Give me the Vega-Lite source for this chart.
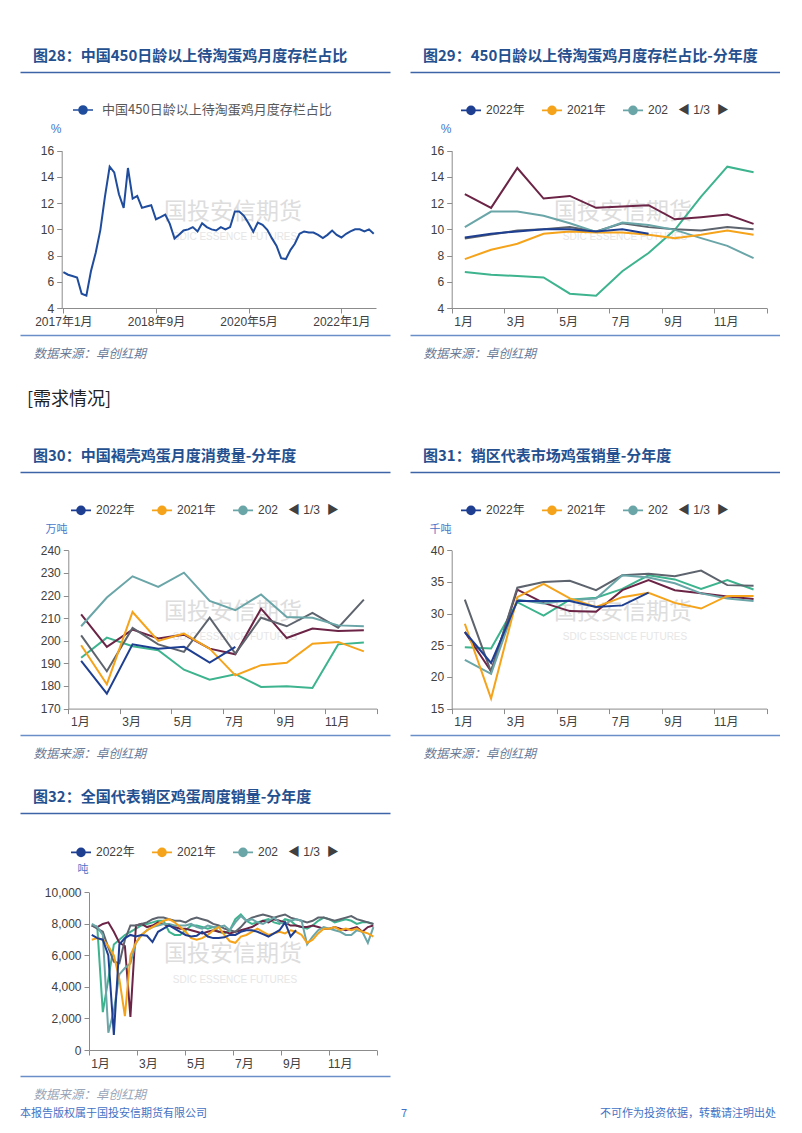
{
  "$schema": "https://vega.github.io/schema/vega-lite/v6.json",
  "background": "white",
  "padding": {"left": 20, "top": 0, "right": 0, "bottom": 0},
  "config": {"view": {"stroke": null}, "font": "Noto Sans CJK SC"},
  "datasets": {
    "d28": [
      {"date":"2017-01-01","value":6.74},{"date":"2017-02-01","value":6.54},{"date":"2017-03-01","value":6.44},{"date":"2017-04-01","value":6.33},{"date":"2017-05-01","value":5.09},{"date":"2017-06-01","value":4.94},{"date":"2017-07-01","value":6.8},{"date":"2017-08-01","value":8.2},{"date":"2017-09-01","value":9.96},{"date":"2017-10-01","value":12.5},{"date":"2017-11-01","value":14.78},{"date":"2017-12-01","value":14.35},
      {"date":"2018-01-01","value":12.68},{"date":"2018-02-01","value":11.64},{"date":"2018-03-01","value":14.68},{"date":"2018-04-01","value":12.35},{"date":"2018-05-01","value":12.55},{"date":"2018-06-01","value":11.64},{"date":"2018-07-01","value":11.74},{"date":"2018-08-01","value":11.84},{"date":"2018-09-01","value":10.77},{"date":"2018-10-01","value":10.93},{"date":"2018-11-01","value":11.13},{"date":"2018-12-01","value":10.42},
      {"date":"2019-01-01","value":9.3},{"date":"2019-02-01","value":9.6},{"date":"2019-03-01","value":9.91},{"date":"2019-04-01","value":10.0},{"date":"2019-05-01","value":10.17},{"date":"2019-06-01","value":9.84},{"date":"2019-07-01","value":10.47},{"date":"2019-08-01","value":10.17},{"date":"2019-09-01","value":10.0},{"date":"2019-10-01","value":9.91},{"date":"2019-11-01","value":10.17},{"date":"2019-12-01","value":10.0},
      {"date":"2020-01-01","value":10.17},{"date":"2020-02-01","value":11.36},{"date":"2020-03-01","value":11.36},{"date":"2020-04-01","value":11.03},{"date":"2020-05-01","value":10.47},{"date":"2020-06-01","value":9.81},{"date":"2020-07-01","value":10.52},{"date":"2020-08-01","value":10.34},{"date":"2020-09-01","value":9.96},{"date":"2020-10-01","value":9.33},{"date":"2020-11-01","value":8.74},{"date":"2020-12-01","value":7.8},
      {"date":"2021-01-01","value":7.73},{"date":"2021-02-01","value":8.44},{"date":"2021-03-01","value":8.9},{"date":"2021-04-01","value":9.66},{"date":"2021-05-01","value":9.84},{"date":"2021-06-01","value":9.76},{"date":"2021-07-01","value":9.76},{"date":"2021-08-01","value":9.58},{"date":"2021-09-01","value":9.33},{"date":"2021-10-01","value":9.58},{"date":"2021-11-01","value":9.91},{"date":"2021-12-01","value":9.58},
      {"date":"2022-01-01","value":9.38},{"date":"2022-02-01","value":9.66},{"date":"2022-03-01","value":9.84},{"date":"2022-04-01","value":10.0},{"date":"2022-05-01","value":10.0},{"date":"2022-06-01","value":9.84},{"date":"2022-07-01","value":10.0},{"date":"2022-08-01","value":9.66}
    ],
    "d29": [
      {"year":"2017年","month":1,"value":6.74},{"year":"2017年","month":2,"value":6.54},{"year":"2017年","month":3,"value":6.44},{"year":"2017年","month":4,"value":6.33},{"year":"2017年","month":5,"value":5.09},{"year":"2017年","month":6,"value":4.94},{"year":"2017年","month":7,"value":6.8},{"year":"2017年","month":8,"value":8.2},{"year":"2017年","month":9,"value":9.96},{"year":"2017年","month":10,"value":12.5},{"year":"2017年","month":11,"value":14.78},{"year":"2017年","month":12,"value":14.35},
      {"year":"2018年","month":1,"value":12.68},{"year":"2018年","month":2,"value":11.64},{"year":"2018年","month":3,"value":14.68},{"year":"2018年","month":4,"value":12.35},{"year":"2018年","month":5,"value":12.55},{"year":"2018年","month":6,"value":11.64},{"year":"2018年","month":7,"value":11.74},{"year":"2018年","month":8,"value":11.84},{"year":"2018年","month":9,"value":10.77},{"year":"2018年","month":10,"value":10.93},{"year":"2018年","month":11,"value":11.13},{"year":"2018年","month":12,"value":10.42},
      {"year":"2019年","month":1,"value":9.3},{"year":"2019年","month":2,"value":9.6},{"year":"2019年","month":3,"value":9.91},{"year":"2019年","month":4,"value":10.0},{"year":"2019年","month":5,"value":10.17},{"year":"2019年","month":6,"value":9.84},{"year":"2019年","month":7,"value":10.47},{"year":"2019年","month":8,"value":10.17},{"year":"2019年","month":9,"value":10.0},{"year":"2019年","month":10,"value":9.91},{"year":"2019年","month":11,"value":10.17},{"year":"2019年","month":12,"value":10.0},
      {"year":"2020年","month":1,"value":10.17},{"year":"2020年","month":2,"value":11.36},{"year":"2020年","month":3,"value":11.36},{"year":"2020年","month":4,"value":11.03},{"year":"2020年","month":5,"value":10.47},{"year":"2020年","month":6,"value":9.81},{"year":"2020年","month":7,"value":10.52},{"year":"2020年","month":8,"value":10.34},{"year":"2020年","month":9,"value":9.96},{"year":"2020年","month":10,"value":9.33},{"year":"2020年","month":11,"value":8.74},{"year":"2020年","month":12,"value":7.8},
      {"year":"2021年","month":1,"value":7.73},{"year":"2021年","month":2,"value":8.44},{"year":"2021年","month":3,"value":8.9},{"year":"2021年","month":4,"value":9.66},{"year":"2021年","month":5,"value":9.84},{"year":"2021年","month":6,"value":9.76},{"year":"2021年","month":7,"value":9.76},{"year":"2021年","month":8,"value":9.58},{"year":"2021年","month":9,"value":9.33},{"year":"2021年","month":10,"value":9.58},{"year":"2021年","month":11,"value":9.91},{"year":"2021年","month":12,"value":9.58},
      {"year":"2022年","month":1,"value":9.38},{"year":"2022年","month":2,"value":9.66},{"year":"2022年","month":3,"value":9.84},{"year":"2022年","month":4,"value":10.0},{"year":"2022年","month":5,"value":10.0},{"year":"2022年","month":6,"value":9.84},{"year":"2022年","month":7,"value":10.0},{"year":"2022年","month":8,"value":9.66}
    ],
    "d30": [
      {"year":"2017年","month":1,"value":192.5},{"year":"2017年","month":2,"value":201.4},{"year":"2017年","month":3,"value":197.6},{"year":"2017年","month":4,"value":195.8},{"year":"2017年","month":5,"value":187.2},{"year":"2017年","month":6,"value":182.8},{"year":"2017年","month":7,"value":185.2},{"year":"2017年","month":8,"value":179.6},{"year":"2017年","month":9,"value":179.9},{"year":"2017年","month":10,"value":179.1},{"year":"2017年","month":11,"value":198.4},{"year":"2017年","month":12,"value":199.2},
      {"year":"2018年","month":1,"value":211.7},{"year":"2018年","month":2,"value":197.3},{"year":"2018年","month":3,"value":204.9},{"year":"2018年","month":4,"value":201.0},{"year":"2018年","month":5,"value":202.7},{"year":"2018年","month":6,"value":196.5},{"year":"2018年","month":7,"value":194.0},{"year":"2018年","month":8,"value":214.2},{"year":"2018年","month":9,"value":201.2},{"year":"2018年","month":10,"value":205.4},{"year":"2018年","month":11,"value":204.3},{"year":"2018年","month":12,"value":204.6},
      {"year":"2019年","month":1,"value":202.4},{"year":"2019年","month":2,"value":186.5},{"year":"2019年","month":3,"value":205.7},{"year":"2019年","month":4,"value":198.4},{"year":"2019年","month":5,"value":195.1},{"year":"2019年","month":6,"value":210.2},{"year":"2019年","month":7,"value":194.3},{"year":"2019年","month":8,"value":210.2},{"year":"2019年","month":9,"value":206.4},{"year":"2019年","month":10,"value":212.3},{"year":"2019年","month":11,"value":205.8},{"year":"2019年","month":12,"value":218.2},
      {"year":"2020年","month":1,"value":206.4},{"year":"2020年","month":2,"value":219.1},{"year":"2020年","month":3,"value":228.5},{"year":"2020年","month":4,"value":223.8},{"year":"2020年","month":5,"value":230.1},{"year":"2020年","month":6,"value":217.6},{"year":"2020年","month":7,"value":213.5},{"year":"2020年","month":8,"value":220.5},{"year":"2020年","month":9,"value":210.5},{"year":"2020年","month":10,"value":210.2},{"year":"2020年","month":11,"value":206.8},{"year":"2020年","month":12,"value":206.4},
      {"year":"2021年","month":1,"value":198.0},{"year":"2021年","month":2,"value":180.8},{"year":"2021年","month":3,"value":212.7},{"year":"2021年","month":4,"value":199.9},{"year":"2021年","month":5,"value":203.2},{"year":"2021年","month":6,"value":196.5},{"year":"2021年","month":7,"value":184.7},{"year":"2021年","month":8,"value":189.2},{"year":"2021年","month":9,"value":190.3},{"year":"2021年","month":10,"value":198.7},{"year":"2021年","month":11,"value":199.5},{"year":"2021年","month":12,"value":195.3},
      {"year":"2022年","month":1,"value":191.1},{"year":"2022年","month":2,"value":176.6},{"year":"2022年","month":3,"value":198.4},{"year":"2022年","month":4,"value":196.5},{"year":"2022年","month":5,"value":197.3},{"year":"2022年","month":6,"value":190.3},{"year":"2022年","month":7,"value":197.3}
    ],
    "d31": [
      {"year":"2017年","month":1,"value":24.7},{"year":"2017年","month":2,"value":24.5},{"year":"2017年","month":3,"value":31.8},{"year":"2017年","month":4,"value":29.7},{"year":"2017年","month":5,"value":32.2},{"year":"2017年","month":6,"value":32.5},{"year":"2017年","month":7,"value":33.9},{"year":"2017年","month":8,"value":36.05},{"year":"2017年","month":9,"value":35.4},{"year":"2017年","month":10,"value":33.9},{"year":"2017年","month":11,"value":35.3},{"year":"2017年","month":12,"value":33.8},
      {"year":"2018年","month":1,"value":27.1},{"year":"2018年","month":2,"value":20.9},{"year":"2018年","month":3,"value":33.8},{"year":"2018年","month":4,"value":31.7},{"year":"2018年","month":5,"value":30.4},{"year":"2018年","month":6,"value":30.3},{"year":"2018年","month":7,"value":33.7},{"year":"2018年","month":8,"value":35.3},{"year":"2018年","month":9,"value":33.7},{"year":"2018年","month":10,"value":33.2},{"year":"2018年","month":11,"value":32.7},{"year":"2018年","month":12,"value":32.3},
      {"year":"2019年","month":1,"value":32.2},{"year":"2019年","month":2,"value":20.8},{"year":"2019年","month":3,"value":34.1},{"year":"2019年","month":4,"value":35.0},{"year":"2019年","month":5,"value":35.2},{"year":"2019年","month":6,"value":33.7},{"year":"2019年","month":7,"value":36.05},{"year":"2019年","month":8,"value":36.3},{"year":"2019年","month":9,"value":35.9},{"year":"2019年","month":10,"value":36.8},{"year":"2019年","month":11,"value":34.5},{"year":"2019年","month":12,"value":34.4},
      {"year":"2020年","month":1,"value":22.7},{"year":"2020年","month":2,"value":20.5},{"year":"2020年","month":3,"value":32.2},{"year":"2020年","month":4,"value":31.6},{"year":"2020年","month":5,"value":32.1},{"year":"2020年","month":6,"value":32.4},{"year":"2020年","month":7,"value":36.05},{"year":"2020年","month":8,"value":35.7},{"year":"2020年","month":9,"value":34.8},{"year":"2020年","month":10,"value":33.2},{"year":"2020年","month":11,"value":32.4},{"year":"2020年","month":12,"value":32.0},
      {"year":"2021年","month":1,"value":28.4},{"year":"2021年","month":2,"value":16.6},{"year":"2021年","month":3,"value":32.6},{"year":"2021年","month":4,"value":34.7},{"year":"2021年","month":5,"value":32.4},{"year":"2021年","month":6,"value":31.05},{"year":"2021年","month":7,"value":32.6},{"year":"2021年","month":8,"value":33.3},{"year":"2021年","month":9,"value":31.7},{"year":"2021年","month":10,"value":30.8},{"year":"2021年","month":11,"value":32.8},{"year":"2021年","month":12,"value":32.8},
      {"year":"2022年","month":1,"value":27.1},{"year":"2022年","month":2,"value":22.2},{"year":"2022年","month":3,"value":32.0},{"year":"2022年","month":4,"value":32.0},{"year":"2022年","month":5,"value":32.0},{"year":"2022年","month":6,"value":31.05},{"year":"2022年","month":7,"value":31.3},{"year":"2022年","month":8,"value":33.3}
    ],
    "d32": [
      {"year":"2017年","week":1,"value":7900},{"year":"2017年","week":2,"value":7800},{"year":"2017年","week":3,"value":2400},{"year":"2017年","week":4,"value":4500},{"year":"2017年","week":5,"value":6700},{"year":"2017年","week":6,"value":7000},{"year":"2017年","week":7,"value":7300},{"year":"2017年","week":8,"value":7500},{"year":"2017年","week":9,"value":7700},{"year":"2017年","week":10,"value":7900},{"year":"2017年","week":11,"value":8000},{"year":"2017年","week":12,"value":8100},{"year":"2017年","week":13,"value":8200},{"year":"2017年","week":14,"value":8200},{"year":"2017年","week":15,"value":7500},{"year":"2017年","week":16,"value":7300},{"year":"2017年","week":17,"value":7300},{"year":"2017年","week":18,"value":7600},{"year":"2017年","week":19,"value":7900},{"year":"2017年","week":20,"value":7900},{"year":"2017年","week":21,"value":7800},{"year":"2017年","week":22,"value":7700},{"year":"2017年","week":23,"value":7800},{"year":"2017年","week":24,"value":7500},{"year":"2017年","week":25,"value":7400},{"year":"2017年","week":26,"value":7600},{"year":"2017年","week":27,"value":8300},{"year":"2017年","week":28,"value":8600},{"year":"2017年","week":29,"value":8200},{"year":"2017年","week":30,"value":8000},{"year":"2017年","week":31,"value":8100},{"year":"2017年","week":32,"value":8200},{"year":"2017年","week":33,"value":8300},{"year":"2017年","week":34,"value":8100},{"year":"2017年","week":35,"value":8000},{"year":"2017年","week":36,"value":8300},{"year":"2017年","week":37,"value":8200},{"year":"2017年","week":38,"value":7900},{"year":"2017年","week":39,"value":7800},{"year":"2017年","week":40,"value":7700},{"year":"2017年","week":41,"value":7900},{"year":"2017年","week":42,"value":8200},{"year":"2017年","week":43,"value":8400},{"year":"2017年","week":44,"value":8300},{"year":"2017年","week":45,"value":8100},{"year":"2017年","week":46,"value":8200},{"year":"2017年","week":47,"value":8300},{"year":"2017年","week":48,"value":8200},{"year":"2017年","week":49,"value":8000},{"year":"2017年","week":50,"value":8100},{"year":"2017年","week":51,"value":8100},{"year":"2017年","week":52,"value":8000},
      {"year":"2018年","week":1,"value":7900},{"year":"2018年","week":2,"value":7800},{"year":"2018年","week":3,"value":8000},{"year":"2018年","week":4,"value":8100},{"year":"2018年","week":5,"value":7500},{"year":"2018年","week":6,"value":6800},{"year":"2018年","week":7,"value":6600},{"year":"2018年","week":8,"value":2100},{"year":"2018年","week":9,"value":7900},{"year":"2018年","week":10,"value":8000},{"year":"2018年","week":11,"value":7800},{"year":"2018年","week":12,"value":7900},{"year":"2018年","week":13,"value":8100},{"year":"2018年","week":14,"value":8000},{"year":"2018年","week":15,"value":7900},{"year":"2018年","week":16,"value":7800},{"year":"2018年","week":17,"value":7700},{"year":"2018年","week":18,"value":7700},{"year":"2018年","week":19,"value":7600},{"year":"2018年","week":20,"value":7500},{"year":"2018年","week":21,"value":7400},{"year":"2018年","week":22,"value":7500},{"year":"2018年","week":23,"value":7600},{"year":"2018年","week":24,"value":7500},{"year":"2018年","week":25,"value":7500},{"year":"2018年","week":26,"value":7400},{"year":"2018年","week":27,"value":7500},{"year":"2018年","week":28,"value":7600},{"year":"2018年","week":29,"value":7700},{"year":"2018年","week":30,"value":7800},{"year":"2018年","week":31,"value":8000},{"year":"2018年","week":32,"value":8200},{"year":"2018年","week":33,"value":8100},{"year":"2018年","week":34,"value":8300},{"year":"2018年","week":35,"value":8200},{"year":"2018年","week":36,"value":8100},{"year":"2018年","week":37,"value":7900},{"year":"2018年","week":38,"value":7900},{"year":"2018年","week":39,"value":7800},{"year":"2018年","week":40,"value":7800},{"year":"2018年","week":41,"value":7900},{"year":"2018年","week":42,"value":7800},{"year":"2018年","week":43,"value":7700},{"year":"2018年","week":44,"value":7700},{"year":"2018年","week":45,"value":7800},{"year":"2018年","week":46,"value":7700},{"year":"2018年","week":47,"value":7600},{"year":"2018年","week":48,"value":7700},{"year":"2018年","week":49,"value":7800},{"year":"2018年","week":50,"value":7500},{"year":"2018年","week":51,"value":7800},{"year":"2018年","week":52,"value":7900},
      {"year":"2019年","week":1,"value":7900},{"year":"2019年","week":2,"value":7700},{"year":"2019年","week":3,"value":7500},{"year":"2019年","week":4,"value":6500},{"year":"2019年","week":5,"value":5600},{"year":"2019年","week":6,"value":5500},{"year":"2019年","week":7,"value":7000},{"year":"2019年","week":8,"value":7900},{"year":"2019年","week":9,"value":7900},{"year":"2019年","week":10,"value":8000},{"year":"2019年","week":11,"value":8100},{"year":"2019年","week":12,"value":8300},{"year":"2019年","week":13,"value":8400},{"year":"2019年","week":14,"value":8400},{"year":"2019年","week":15,"value":8300},{"year":"2019年","week":16,"value":8200},{"year":"2019年","week":17,"value":8200},{"year":"2019年","week":18,"value":8100},{"year":"2019年","week":19,"value":8300},{"year":"2019年","week":20,"value":8400},{"year":"2019年","week":21,"value":8300},{"year":"2019年","week":22,"value":8200},{"year":"2019年","week":23,"value":8000},{"year":"2019年","week":24,"value":7900},{"year":"2019年","week":25,"value":7700},{"year":"2019年","week":26,"value":7600},{"year":"2019年","week":27,"value":7500},{"year":"2019年","week":28,"value":7800},{"year":"2019年","week":29,"value":8200},{"year":"2019年","week":30,"value":8400},{"year":"2019年","week":31,"value":8500},{"year":"2019年","week":32,"value":8600},{"year":"2019年","week":33,"value":8500},{"year":"2019年","week":34,"value":8400},{"year":"2019年","week":35,"value":8500},{"year":"2019年","week":36,"value":8600},{"year":"2019年","week":37,"value":8400},{"year":"2019年","week":38,"value":8300},{"year":"2019年","week":39,"value":8200},{"year":"2019年","week":40,"value":8100},{"year":"2019年","week":41,"value":8200},{"year":"2019年","week":42,"value":8400},{"year":"2019年","week":43,"value":8400},{"year":"2019年","week":44,"value":8300},{"year":"2019年","week":45,"value":8200},{"year":"2019年","week":46,"value":8300},{"year":"2019年","week":47,"value":8400},{"year":"2019年","week":48,"value":8500},{"year":"2019年","week":49,"value":8300},{"year":"2019年","week":50,"value":8200},{"year":"2019年","week":51,"value":8100},{"year":"2019年","week":52,"value":8000},
      {"year":"2020年","week":1,"value":8000},{"year":"2020年","week":2,"value":7800},{"year":"2020年","week":3,"value":7300},{"year":"2020年","week":4,"value":1100},{"year":"2020年","week":5,"value":2500},{"year":"2020年","week":6,"value":4800},{"year":"2020年","week":7,"value":5200},{"year":"2020年","week":8,"value":5500},{"year":"2020年","week":9,"value":6800},{"year":"2020年","week":10,"value":7300},{"year":"2020年","week":11,"value":7600},{"year":"2020年","week":12,"value":7800},{"year":"2020年","week":13,"value":7900},{"year":"2020年","week":14,"value":8000},{"year":"2020年","week":15,"value":8000},{"year":"2020年","week":16,"value":7900},{"year":"2020年","week":17,"value":7900},{"year":"2020年","week":18,"value":7900},{"year":"2020年","week":19,"value":8000},{"year":"2020年","week":20,"value":7800},{"year":"2020年","week":21,"value":7700},{"year":"2020年","week":22,"value":7900},{"year":"2020年","week":23,"value":7800},{"year":"2020年","week":24,"value":7800},{"year":"2020年","week":25,"value":7900},{"year":"2020年","week":26,"value":7600},{"year":"2020年","week":27,"value":8100},{"year":"2020年","week":28,"value":8500},{"year":"2020年","week":29,"value":8200},{"year":"2020年","week":30,"value":8300},{"year":"2020年","week":31,"value":8100},{"year":"2020年","week":32,"value":8000},{"year":"2020年","week":33,"value":8200},{"year":"2020年","week":34,"value":8400},{"year":"2020年","week":35,"value":8100},{"year":"2020年","week":36,"value":8000},{"year":"2020年","week":37,"value":8200},{"year":"2020年","week":38,"value":8300},{"year":"2020年","week":39,"value":8200},{"year":"2020年","week":40,"value":6700},{"year":"2020年","week":41,"value":7200},{"year":"2020年","week":42,"value":7600},{"year":"2020年","week":43,"value":7800},{"year":"2020年","week":44,"value":7700},{"year":"2020年","week":45,"value":7600},{"year":"2020年","week":46,"value":7500},{"year":"2020年","week":47,"value":7300},{"year":"2020年","week":48,"value":7300},{"year":"2020年","week":49,"value":7600},{"year":"2020年","week":50,"value":7500},{"year":"2020年","week":51,"value":6800},{"year":"2020年","week":52,"value":7800},
      {"year":"2021年","week":1,"value":7000},{"year":"2021年","week":2,"value":7100},{"year":"2021年","week":3,"value":7000},{"year":"2021年","week":4,"value":6600},{"year":"2021年","week":5,"value":6000},{"year":"2021年","week":6,"value":4500},{"year":"2021年","week":7,"value":2150},{"year":"2021年","week":8,"value":6000},{"year":"2021年","week":9,"value":6800},{"year":"2021年","week":10,"value":7300},{"year":"2021年","week":11,"value":7600},{"year":"2021年","week":12,"value":7800},{"year":"2021年","week":13,"value":8000},{"year":"2021年","week":14,"value":8200},{"year":"2021年","week":15,"value":8300},{"year":"2021年","week":16,"value":8100},{"year":"2021年","week":17,"value":7800},{"year":"2021年","week":18,"value":7500},{"year":"2021年","week":19,"value":7100},{"year":"2021年","week":20,"value":7000},{"year":"2021年","week":21,"value":7100},{"year":"2021年","week":22,"value":7300},{"year":"2021年","week":23,"value":7600},{"year":"2021年","week":24,"value":7800},{"year":"2021年","week":25,"value":7300},{"year":"2021年","week":26,"value":6900},{"year":"2021年","week":27,"value":6800},{"year":"2021年","week":28,"value":7200},{"year":"2021年","week":29,"value":7300},{"year":"2021年","week":30,"value":7500},{"year":"2021年","week":31,"value":7700},{"year":"2021年","week":32,"value":7500},{"year":"2021年","week":33,"value":7300},{"year":"2021年","week":34,"value":7400},{"year":"2021年","week":35,"value":7500},{"year":"2021年","week":36,"value":7400},{"year":"2021年","week":37,"value":7600},{"year":"2021年","week":38,"value":7500},{"year":"2021年","week":39,"value":7300},{"year":"2021年","week":40,"value":6800},{"year":"2021年","week":41,"value":7000},{"year":"2021年","week":42,"value":7400},{"year":"2021年","week":43,"value":7700},{"year":"2021年","week":44,"value":7700},{"year":"2021年","week":45,"value":7800},{"year":"2021年","week":46,"value":7600},{"year":"2021年","week":47,"value":7700},{"year":"2021年","week":48,"value":7600},{"year":"2021年","week":49,"value":7700},{"year":"2021年","week":50,"value":7500},{"year":"2021年","week":51,"value":7400},{"year":"2021年","week":52,"value":7200},
      {"year":"2022年","week":1,"value":7300},{"year":"2022年","week":2,"value":7100},{"year":"2022年","week":3,"value":7000},{"year":"2022年","week":4,"value":6000},{"year":"2022年","week":5,"value":950},{"year":"2022年","week":6,"value":6700},{"year":"2022年","week":7,"value":7100},{"year":"2022年","week":8,"value":7300},{"year":"2022年","week":9,"value":7200},{"year":"2022年","week":10,"value":7300},{"year":"2022年","week":11,"value":7250},{"year":"2022年","week":12,"value":6850},{"year":"2022年","week":13,"value":7500},{"year":"2022年","week":14,"value":7700},{"year":"2022年","week":15,"value":7900},{"year":"2022年","week":16,"value":7700},{"year":"2022年","week":17,"value":7500},{"year":"2022年","week":18,"value":7300},{"year":"2022年","week":19,"value":7200},{"year":"2022年","week":20,"value":7250},{"year":"2022年","week":21,"value":7500},{"year":"2022年","week":22,"value":7200},{"year":"2022年","week":23,"value":7100},{"year":"2022年","week":24,"value":7100},{"year":"2022年","week":25,"value":7150},{"year":"2022年","week":26,"value":7300},{"year":"2022年","week":27,"value":7300},{"year":"2022年","week":28,"value":7500},{"year":"2022年","week":29,"value":7600},{"year":"2022年","week":30,"value":7600},{"year":"2022年","week":31,"value":7500},{"year":"2022年","week":32,"value":7350},{"year":"2022年","week":33,"value":7200},{"year":"2022年","week":34,"value":7400},{"year":"2022年","week":35,"value":7600},{"year":"2022年","week":36,"value":8100},{"year":"2022年","week":37,"value":7200},{"year":"2022年","week":38,"value":7600}
    ]
  },
  "columns": 2,
  "spacing": {"row": 0, "column": 20},
  "bounds": "flush",
  "resolve": {"scale": {"color": "independent"}, "legend": {"color": "independent"}},
  "concat": [
    {"width": 370, "height": 72, "data": {"values": []}, "mark": "text", "encoding": {}},
    {"width": 370, "height": 72, "data": {"values": []}, "mark": "text", "encoding": {}},
    {
      "width": 370, "height": 263,
      "title": {"text": "图28：中国450日龄以上待淘蛋鸡月度存栏占比", "anchor": "start", "frame": "group", "orient": "top", "baseline": "middle", "offset": 1, "dx": 13, "font": "Noto Sans CJK SC", "fontSize": 15, "fontWeight": "bold", "color": "#24508F"},
      "resolve": {"scale": {"x": "independent", "y": "independent"}, "axis": {"x": "independent", "y": "independent"}},
      "layer": [
        {"data": {"values": [{}]}, "mark": {"type": "text", "text": "国投安信期货", "font": "Noto Sans CJK SC", "fontSize": 23, "color": "#DDDDDD"},
         "encoding": {"x": {"datum": 0.576, "type": "quantitative", "scale": {"domain": [0, 1]}, "axis": {"orient": "top", "domain": true, "domainColor": "#3D64A6", "domainWidth": 1.5, "ticks": false, "labels": false, "grid": false, "title": null}},
                      "y": {"datum": 0.468, "type": "quantitative", "scale": {"domain": [0, 1]}, "axis": null}}},
        {"data": {"values": [{}]}, "mark": {"type": "text", "text": "SDIC ESSENCE FUTURES", "font": "Liberation Sans", "fontSize": 10, "color": "#E6E6E6"},
         "encoding": {"x": {"datum": 0.581, "type": "quantitative", "scale": {"domain": [0, 1]}, "axis": {"orient": "bottom", "domain": true, "domainColor": "#6A8FC8", "domainWidth": 1.5, "ticks": false, "labels": false, "grid": false, "title": "数据来源：卓创红期", "titleX": 13, "titleY": 18.5, "titleAlign": "left", "titleBaseline": "middle", "titleFont": "Noto Sans CJK SC", "titleFontSize": 12.5, "titleFontStyle": "italic", "titleFontWeight": "normal", "titleColor": "#6B7C99"}},
                      "y": {"datum": 0.373, "type": "quantitative", "scale": {"domain": [0, 1]}, "axis": null}}},
        {"data": {"name": "d28"}, "transform": [{"calculate": "'中国450日龄以上待淘蛋鸡月度存栏占比'", "as": "series"}],
         "mark": {"type": "line", "strokeWidth": 2},
         "encoding": {
           "x": {"field": "date", "type": "temporal", "scale": {"type": "utc", "domain": [{"year": 2016, "month": 12, "date": 21, "utc": true}, {"year": 2022, "month": 8, "date": 16, "utc": true}], "range": [41.7, 356], "nice": false},
                 "axis": {"orient": "bottom", "offset": -27, "values": [{"year": 2017, "month": 1, "date": 1, "utc": true}, {"year": 2018, "month": 9, "date": 1, "utc": true}, {"year": 2020, "month": 5, "date": 1, "utc": true}, {"year": 2022, "month": 1, "date": 1, "utc": true}], "labelExpr": "utcFormat(datum.value, '%Y年%-m月')", "labelFlush": false, "labelOverlap": false, "labelBound": false, "grid": false, "domainColor": "#8C8C8C", "tickColor": "#8C8C8C", "tickSize": 5, "labelColor": "#404040", "labelFont": "Liberation Sans, Noto Sans CJK SC", "labelFontSize": 12, "labelPadding": 3, "title": null}},
           "y": {"field": "value", "type": "quantitative", "scale": {"domain": [4, 16], "range": [236, 78.7], "nice": false, "zero": false},
                 "axis": {"orient": "left", "offset": -41.7, "values": [4, 6, 8, 10, 12, 14, 16], "grid": false, "domainColor": "#8C8C8C", "tickColor": "#8C8C8C", "tickSize": 5, "labelColor": "#404040", "labelFont": "Liberation Sans", "labelFontSize": 12, "labelPadding": 3, "title": "%", "titleAngle": 0, "titleX": -6, "titleY": 56, "titleAlign": "center", "titleBaseline": "middle", "titleColor": "#4A76C8", "titleFont": "Liberation Sans", "titleFontSize": 12, "titleFontWeight": "normal"}},
           "color": {"field": "series", "type": "nominal", "scale": {"range": ["#1F4C9C"]},
                     "legend": {"orient": "none", "legendX": 52, "legendY": 27, "direction": "horizontal", "title": null, "symbolType": "M-1,0H1M-0.4,0A0.4,0.4,0,1,1,0.4,0A0.4,0.4,0,1,1,-0.4,0M-0.25,0A0.25,0.25,0,1,1,0.25,0A0.25,0.25,0,1,1,-0.25,0M-0.1,0A0.1,0.1,0,1,1,0.1,0A0.1,0.1,0,1,1,-0.1,0", "symbolSize": 400, "symbolStrokeWidth": 1.6, "labelFont": "Noto Sans CJK SC", "labelFontSize": 13, "labelColor": "#595959", "labelOffset": 8, "labelLimit": 400}}
         }}
      ]
    },
    {
      "width": 370, "height": 263,
      "title": {"text": "图29：450日龄以上待淘蛋鸡月度存栏占比-分年度", "anchor": "start", "frame": "group", "orient": "top", "baseline": "middle", "offset": 1, "dx": 13, "font": "Noto Sans CJK SC", "fontSize": 15, "fontWeight": "bold", "color": "#24508F"},
      "resolve": {"scale": {"x": "independent", "y": "independent"}, "axis": {"x": "independent", "y": "independent"}},
      "layer": [
        {"data": {"values": [{}]}, "mark": {"type": "text", "text": "国投安信期货", "font": "Noto Sans CJK SC", "fontSize": 23, "color": "#DDDDDD"},
         "encoding": {"x": {"datum": 0.576, "type": "quantitative", "scale": {"domain": [0, 1]}, "axis": {"orient": "top", "domain": true, "domainColor": "#3D64A6", "domainWidth": 1.5, "ticks": false, "labels": false, "grid": false, "title": null}},
                      "y": {"datum": 0.468, "type": "quantitative", "scale": {"domain": [0, 1]}, "axis": null}}},
        {"data": {"values": [{}]}, "mark": {"type": "text", "text": "SDIC ESSENCE FUTURES", "font": "Liberation Sans", "fontSize": 10, "color": "#E6E6E6"},
         "encoding": {"x": {"datum": 0.581, "type": "quantitative", "scale": {"domain": [0, 1]}, "axis": {"orient": "bottom", "domain": true, "domainColor": "#6A8FC8", "domainWidth": 1.5, "ticks": false, "labels": false, "grid": false, "title": "数据来源：卓创红期", "titleX": 13, "titleY": 18.5, "titleAlign": "left", "titleBaseline": "middle", "titleFont": "Noto Sans CJK SC", "titleFontSize": 12.5, "titleFontStyle": "italic", "titleFontWeight": "normal", "titleColor": "#6B7C99"}},
                      "y": {"datum": 0.373, "type": "quantitative", "scale": {"domain": [0, 1]}, "axis": null}}},
        {"data": {"name": "d29"},
         "mark": {"type": "line", "strokeWidth": 2},
         "encoding": {
           "x": {"field": "month", "type": "quantitative", "scale": {"domain": [0.5, 12.5], "range": [41.7, 356.7], "nice": false, "zero": false},
                 "axis": {"orient": "bottom", "offset": -27, "values": [0.5, 2.5, 4.5, 6.5, 8.5, 10.5, 12.5], "labelExpr": "datum.value > 12 ? '' : (datum.value + 0.5) + '月'", "labelOffset": 11.5, "labelFlush": false, "labelOverlap": false, "labelBound": false, "grid": false, "domainColor": "#8C8C8C", "tickColor": "#8C8C8C", "tickSize": 5, "labelColor": "#404040", "labelFont": "Liberation Sans, Noto Sans CJK SC", "labelFontSize": 12, "labelPadding": 3, "title": null}},
           "y": {"field": "value", "type": "quantitative", "scale": {"domain": [4, 16], "range": [236, 78.7], "nice": false, "zero": false},
                 "axis": {"orient": "left", "offset": -41.7, "values": [4, 6, 8, 10, 12, 14, 16], "grid": false, "domainColor": "#8C8C8C", "tickColor": "#8C8C8C", "tickSize": 5, "labelColor": "#404040", "labelFont": "Liberation Sans", "labelFontSize": 12, "labelPadding": 3, "title": "%", "titleAngle": 0, "titleX": -6, "titleY": 56, "titleAlign": "center", "titleBaseline": "middle", "titleColor": "#4A76C8", "titleFont": "Liberation Sans", "titleFontSize": 12, "titleFontWeight": "normal"}},
           "color": {"field": "year", "type": "nominal", "scale": {"domain": ["2022年", "2021年", "2020年", "2019年", "2018年", "2017年"], "range": ["#1E3F91", "#F5A31A", "#6AA5A8", "#5E646D", "#6B2445", "#3DB38E"]},
                     "legend": {"orient": "none", "legendX": 50, "legendY": 27, "direction": "horizontal", "values": ["2022年", "2021年", "2020年"], "labelExpr": "datum.label == '2020年' ? '202\u00a0\u00a0\u00a0\u25c0\u00a01/3\u00a0\u00a0\u25b6' : datum.label", "title": null, "symbolType": "M-1,0H1M-0.4,0A0.4,0.4,0,1,1,0.4,0A0.4,0.4,0,1,1,-0.4,0M-0.25,0A0.25,0.25,0,1,1,0.25,0A0.25,0.25,0,1,1,-0.25,0M-0.1,0A0.1,0.1,0,1,1,0.1,0A0.1,0.1,0,1,1,-0.1,0", "symbolSize": 400, "symbolStrokeWidth": 1.6, "labelFont": "Liberation Sans, Noto Sans CJK SC", "labelFontSize": 12, "labelColor": "#404040", "labelOffset": 4, "columnPadding": 13, "labelLimit": 400}}
         }}
      ]
    },
    {"width": 370, "height": 136.7, "data": {"values": []}, "mark": "text", "encoding": {},
     "title": {"text": "[需求情况]", "anchor": "start", "frame": "group", "orient": "top", "baseline": "middle", "offset": 0, "dy": 83, "dx": 7, "font": "Noto Sans CJK SC", "fontSize": 18, "fontWeight": "normal", "color": "#222222"}},
    {"width": 370, "height": 136.7, "data": {"values": []}, "mark": "text", "encoding": {}},
    {
      "width": 370, "height": 263,
      "title": {"text": "图30：中国褐壳鸡蛋月度消费量-分年度", "anchor": "start", "frame": "group", "orient": "top", "baseline": "middle", "offset": 1, "dx": 13, "font": "Noto Sans CJK SC", "fontSize": 15, "fontWeight": "bold", "color": "#24508F"},
      "resolve": {"scale": {"x": "independent", "y": "independent"}, "axis": {"x": "independent", "y": "independent"}},
      "layer": [
        {"data": {"values": [{}]}, "mark": {"type": "text", "text": "国投安信期货", "font": "Noto Sans CJK SC", "fontSize": 23, "color": "#DDDDDD"},
         "encoding": {"x": {"datum": 0.576, "type": "quantitative", "scale": {"domain": [0, 1]}, "axis": {"orient": "top", "domain": true, "domainColor": "#3D64A6", "domainWidth": 1.5, "ticks": false, "labels": false, "grid": false, "title": null}},
                      "y": {"datum": 0.468, "type": "quantitative", "scale": {"domain": [0, 1]}, "axis": null}}},
        {"data": {"values": [{}]}, "mark": {"type": "text", "text": "SDIC ESSENCE FUTURES", "font": "Liberation Sans", "fontSize": 10, "color": "#E6E6E6"},
         "encoding": {"x": {"datum": 0.581, "type": "quantitative", "scale": {"domain": [0, 1]}, "axis": {"orient": "bottom", "domain": true, "domainColor": "#6A8FC8", "domainWidth": 1.5, "ticks": false, "labels": false, "grid": false, "title": "数据来源：卓创红期", "titleX": 13, "titleY": 18.5, "titleAlign": "left", "titleBaseline": "middle", "titleFont": "Noto Sans CJK SC", "titleFontSize": 12.5, "titleFontStyle": "italic", "titleFontWeight": "normal", "titleColor": "#6B7C99"}},
                      "y": {"datum": 0.373, "type": "quantitative", "scale": {"domain": [0, 1]}, "axis": null}}},
        {"data": {"name": "d30"},
         "mark": {"type": "line", "strokeWidth": 2},
         "encoding": {
           "x": {"field": "month", "type": "quantitative", "scale": {"domain": [0.5, 12.5], "range": [48.3, 356.7], "nice": false, "zero": false},
                 "axis": {"orient": "bottom", "offset": -26.4, "values": [0.5, 2.5, 4.5, 6.5, 8.5, 10.5, 12.5], "labelExpr": "datum.value > 12 ? '' : (datum.value + 0.5) + '月'", "labelOffset": 11.5, "labelFlush": false, "labelOverlap": false, "labelBound": false, "grid": false, "domainColor": "#8C8C8C", "tickColor": "#8C8C8C", "tickSize": 5, "labelColor": "#404040", "labelFont": "Liberation Sans, Noto Sans CJK SC", "labelFontSize": 12, "labelPadding": 3, "title": null}},
           "y": {"field": "value", "type": "quantitative", "scale": {"domain": [170, 240], "range": [236.6, 78.3], "nice": false, "zero": false},
                 "axis": {"orient": "left", "offset": -48.3, "values": [170, 180, 190, 200, 210, 220, 230, 240], "grid": false, "domainColor": "#8C8C8C", "tickColor": "#8C8C8C", "tickSize": 5, "labelColor": "#404040", "labelFont": "Liberation Sans", "labelFontSize": 12, "labelPadding": 3, "title": "万吨", "titleAngle": 0, "titleX": -12.3, "titleY": 57.3, "titleAlign": "center", "titleBaseline": "middle", "titleColor": "#4A76C8", "titleFont": "Noto Sans CJK SC", "titleFontSize": 11, "titleFontWeight": "normal"}},
           "color": {"field": "year", "type": "nominal", "scale": {"domain": ["2022年", "2021年", "2020年", "2019年", "2018年", "2017年"], "range": ["#1E3F91", "#F5A31A", "#6AA5A8", "#5E646D", "#6B2445", "#3DB38E"]},
                     "legend": {"orient": "none", "legendX": 50, "legendY": 27, "direction": "horizontal", "values": ["2022年", "2021年", "2020年"], "labelExpr": "datum.label == '2020年' ? '202\u00a0\u00a0\u00a0\u25c0\u00a01/3\u00a0\u00a0\u25b6' : datum.label", "title": null, "symbolType": "M-1,0H1M-0.4,0A0.4,0.4,0,1,1,0.4,0A0.4,0.4,0,1,1,-0.4,0M-0.25,0A0.25,0.25,0,1,1,0.25,0A0.25,0.25,0,1,1,-0.25,0M-0.1,0A0.1,0.1,0,1,1,0.1,0A0.1,0.1,0,1,1,-0.1,0", "symbolSize": 400, "symbolStrokeWidth": 1.6, "labelFont": "Liberation Sans, Noto Sans CJK SC", "labelFontSize": 12, "labelColor": "#404040", "labelOffset": 4, "columnPadding": 13, "labelLimit": 400}}
         }}
      ]
    },
    {
      "width": 370, "height": 263,
      "title": {"text": "图31：销区代表市场鸡蛋销量-分年度", "anchor": "start", "frame": "group", "orient": "top", "baseline": "middle", "offset": 1, "dx": 13, "font": "Noto Sans CJK SC", "fontSize": 15, "fontWeight": "bold", "color": "#24508F"},
      "resolve": {"scale": {"x": "independent", "y": "independent"}, "axis": {"x": "independent", "y": "independent"}},
      "layer": [
        {"data": {"values": [{}]}, "mark": {"type": "text", "text": "国投安信期货", "font": "Noto Sans CJK SC", "fontSize": 23, "color": "#DDDDDD"},
         "encoding": {"x": {"datum": 0.576, "type": "quantitative", "scale": {"domain": [0, 1]}, "axis": {"orient": "top", "domain": true, "domainColor": "#3D64A6", "domainWidth": 1.5, "ticks": false, "labels": false, "grid": false, "title": null}},
                      "y": {"datum": 0.468, "type": "quantitative", "scale": {"domain": [0, 1]}, "axis": null}}},
        {"data": {"values": [{}]}, "mark": {"type": "text", "text": "SDIC ESSENCE FUTURES", "font": "Liberation Sans", "fontSize": 10, "color": "#E6E6E6"},
         "encoding": {"x": {"datum": 0.581, "type": "quantitative", "scale": {"domain": [0, 1]}, "axis": {"orient": "bottom", "domain": true, "domainColor": "#6A8FC8", "domainWidth": 1.5, "ticks": false, "labels": false, "grid": false, "title": "数据来源：卓创红期", "titleX": 13, "titleY": 18.5, "titleAlign": "left", "titleBaseline": "middle", "titleFont": "Noto Sans CJK SC", "titleFontSize": 12.5, "titleFontStyle": "italic", "titleFontWeight": "normal", "titleColor": "#6B7C99"}},
                      "y": {"datum": 0.373, "type": "quantitative", "scale": {"domain": [0, 1]}, "axis": null}}},
        {"data": {"name": "d31"},
         "mark": {"type": "line", "strokeWidth": 2},
         "encoding": {
           "x": {"field": "month", "type": "quantitative", "scale": {"domain": [0.5, 12.5], "range": [41.7, 356.7], "nice": false, "zero": false},
                 "axis": {"orient": "bottom", "offset": -26.4, "values": [0.5, 2.5, 4.5, 6.5, 8.5, 10.5, 12.5], "labelExpr": "datum.value > 12 ? '' : (datum.value + 0.5) + '月'", "labelOffset": 11.5, "labelFlush": false, "labelOverlap": false, "labelBound": false, "grid": false, "domainColor": "#8C8C8C", "tickColor": "#8C8C8C", "tickSize": 5, "labelColor": "#404040", "labelFont": "Liberation Sans, Noto Sans CJK SC", "labelFontSize": 12, "labelPadding": 3, "title": null}},
           "y": {"field": "value", "type": "quantitative", "scale": {"domain": [15, 40], "range": [236.6, 78.3], "nice": false, "zero": false},
                 "axis": {"orient": "left", "offset": -41.7, "values": [15, 20, 25, 30, 35, 40], "grid": false, "domainColor": "#8C8C8C", "tickColor": "#8C8C8C", "tickSize": 5, "labelColor": "#404040", "labelFont": "Liberation Sans", "labelFontSize": 12, "labelPadding": 3, "title": "千吨", "titleAngle": 0, "titleX": -11.7, "titleY": 57.3, "titleAlign": "center", "titleBaseline": "middle", "titleColor": "#4A76C8", "titleFont": "Noto Sans CJK SC", "titleFontSize": 11, "titleFontWeight": "normal"}},
           "color": {"field": "year", "type": "nominal", "scale": {"domain": ["2022年", "2021年", "2020年", "2019年", "2018年", "2017年"], "range": ["#1E3F91", "#F5A31A", "#6AA5A8", "#5E646D", "#6B2445", "#3DB38E"]},
                     "legend": {"orient": "none", "legendX": 50, "legendY": 27, "direction": "horizontal", "values": ["2022年", "2021年", "2020年"], "labelExpr": "datum.label == '2020年' ? '202\u00a0\u00a0\u00a0\u25c0\u00a01/3\u00a0\u00a0\u25b6' : datum.label", "title": null, "symbolType": "M-1,0H1M-0.4,0A0.4,0.4,0,1,1,0.4,0A0.4,0.4,0,1,1,-0.4,0M-0.25,0A0.25,0.25,0,1,1,0.25,0A0.25,0.25,0,1,1,-0.25,0M-0.1,0A0.1,0.1,0,1,1,0.1,0A0.1,0.1,0,1,1,-0.1,0", "symbolSize": 400, "symbolStrokeWidth": 1.6, "labelFont": "Liberation Sans, Noto Sans CJK SC", "labelFontSize": 12, "labelColor": "#404040", "labelOffset": 4, "columnPadding": 13, "labelLimit": 400}}
         }}
      ]
    },
    {"width": 370, "height": 77.6, "data": {"values": []}, "mark": "text", "encoding": {}},
    {"width": 370, "height": 77.6, "data": {"values": []}, "mark": "text", "encoding": {}},
    {
      "width": 370, "height": 263,
      "title": {"text": "图32：全国代表销区鸡蛋周度销量-分年度", "anchor": "start", "frame": "group", "orient": "top", "baseline": "middle", "offset": 1, "dx": 13, "font": "Noto Sans CJK SC", "fontSize": 15, "fontWeight": "bold", "color": "#24508F"},
      "resolve": {"scale": {"x": "independent", "y": "independent"}, "axis": {"x": "independent", "y": "independent"}},
      "layer": [
        {"data": {"values": [{}]}, "mark": {"type": "text", "text": "国投安信期货", "font": "Noto Sans CJK SC", "fontSize": 23, "color": "#DDDDDD"},
         "encoding": {"x": {"datum": 0.576, "type": "quantitative", "scale": {"domain": [0, 1]}, "axis": {"orient": "top", "domain": true, "domainColor": "#3D64A6", "domainWidth": 1.5, "ticks": false, "labels": false, "grid": false, "title": null}},
                      "y": {"datum": 0.462, "type": "quantitative", "scale": {"domain": [0, 1]}, "axis": null}}},
        {"data": {"values": [{}]}, "mark": {"type": "text", "text": "SDIC ESSENCE FUTURES", "font": "Liberation Sans", "fontSize": 10, "color": "#E6E6E6"},
         "encoding": {"x": {"datum": 0.581, "type": "quantitative", "scale": {"domain": [0, 1]}, "axis": {"orient": "bottom", "domain": true, "domainColor": "#6A8FC8", "domainWidth": 1.5, "ticks": false, "labels": false, "grid": false, "title": "数据来源：卓创红期", "titleX": 13, "titleY": 18.5, "titleAlign": "left", "titleBaseline": "middle", "titleFont": "Noto Sans CJK SC", "titleFontSize": 12.5, "titleFontStyle": "italic", "titleFontWeight": "normal", "titleColor": "#9AA6B8"}},
                      "y": {"datum": 0.365, "type": "quantitative", "scale": {"domain": [0, 1]}, "axis": null}}},
        {"data": {"name": "d32"},
         "mark": {"type": "line", "strokeWidth": 2},
         "encoding": {
           "x": {"field": "week", "type": "quantitative", "scale": {"domain": [0.5, 52.6], "range": [69, 356.7], "nice": false, "zero": false},
                 "axis": {"orient": "bottom", "offset": -26, "values": [0.5, 9.18, 17.87, 26.55, 35.23, 43.92, 52.6], "labelExpr": "datum.value < 5 ? '1月' : datum.value < 13 ? '3月' : datum.value < 22 ? '5月' : datum.value < 30 ? '7月' : datum.value < 39 ? '9月' : datum.value < 48 ? '11月' : ''", "labelOffset": 11, "labelFlush": false, "labelOverlap": false, "labelBound": false, "grid": false, "domainColor": "#8C8C8C", "tickColor": "#8C8C8C", "tickSize": 5, "labelColor": "#404040", "labelFont": "Liberation Sans, Noto Sans CJK SC", "labelFontSize": 12, "labelPadding": 3, "title": null}},
           "y": {"field": "value", "type": "quantitative", "scale": {"domain": [0, 10000], "range": [237, 79.4], "nice": false, "zero": false},
                 "axis": {"orient": "left", "offset": -69, "values": [0, 2000, 4000, 6000, 8000, 10000], "labelExpr": "format(datum.value, ',')", "grid": false, "domainColor": "#8C8C8C", "tickColor": "#8C8C8C", "tickSize": 5, "labelColor": "#404040", "labelFont": "Liberation Sans", "labelFontSize": 12, "labelPadding": 3, "title": "吨", "titleAngle": 0, "titleX": -6.5, "titleY": 56.7, "titleAlign": "center", "titleBaseline": "middle", "titleColor": "#4A76C8", "titleFont": "Noto Sans CJK SC", "titleFontSize": 11, "titleFontWeight": "normal"}},
           "color": {"field": "year", "type": "nominal", "scale": {"domain": ["2022年", "2021年", "2020年", "2019年", "2018年", "2017年"], "range": ["#1E3F91", "#F5A31A", "#6AA5A8", "#5E646D", "#6B2445", "#3DB38E"]},
                     "legend": {"orient": "none", "legendX": 50, "legendY": 28, "direction": "horizontal", "values": ["2022年", "2021年", "2020年"], "labelExpr": "datum.label == '2020年' ? '202\u00a0\u00a0\u00a0\u25c0\u00a01/3\u00a0\u00a0\u25b6' : datum.label", "title": null, "symbolType": "M-1,0H1M-0.4,0A0.4,0.4,0,1,1,0.4,0A0.4,0.4,0,1,1,-0.4,0M-0.25,0A0.25,0.25,0,1,1,0.25,0A0.25,0.25,0,1,1,-0.25,0M-0.1,0A0.1,0.1,0,1,1,0.1,0A0.1,0.1,0,1,1,-0.1,0", "symbolSize": 400, "symbolStrokeWidth": 1.6, "labelFont": "Liberation Sans, Noto Sans CJK SC", "labelFontSize": 12, "labelColor": "#404040", "labelOffset": 4, "columnPadding": 13, "labelLimit": 400}}
         }}
      ]
    },
    {"width": 370, "height": 263, "data": {"values": []}, "mark": "text", "encoding": {}},
    {"width": 370, "height": 27.7, "data": {"values": []}, "mark": "text", "encoding": {}},
    {"width": 370, "height": 27.7, "data": {"values": []}, "mark": "text", "encoding": {}},
    {
      "width": 370, "height": 20,
      "layer": [
        {"data": {"values": [{"t": "本报告版权属于国投安信期货有限公司"}]}, "mark": {"type": "text", "align": "left", "baseline": "middle", "font": "Noto Sans CJK SC", "fontSize": 11, "color": "#4472C4"},
         "encoding": {"text": {"field": "t"}, "x": {"datum": 0, "type": "quantitative", "scale": {"domain": [0, 1]}, "axis": null}, "y": {"datum": 0.5, "type": "quantitative", "scale": {"domain": [0, 1]}, "axis": null}}},
        {"data": {"values": [{"t": "7"}]}, "mark": {"type": "text", "align": "center", "baseline": "middle", "font": "Noto Sans CJK SC", "fontSize": 11, "color": "#4472C4"},
         "encoding": {"text": {"field": "t"}, "x": {"datum": 1.0378, "type": "quantitative"}, "y": {"datum": 0.5, "type": "quantitative"}}}
      ]
    },
    {
      "width": 370, "height": 20,
      "data": {"values": [{"t": "不可作为投资依据，转载请注明出处"}]},
      "mark": {"type": "text", "align": "right", "baseline": "middle", "font": "Noto Sans CJK SC", "fontSize": 11, "color": "#4472C4"},
      "encoding": {"text": {"field": "t"}, "x": {"datum": 0.989, "type": "quantitative", "scale": {"domain": [0, 1]}, "axis": null}, "y": {"datum": 0.5, "type": "quantitative", "scale": {"domain": [0, 1]}, "axis": null}}
    }
  ]
}
